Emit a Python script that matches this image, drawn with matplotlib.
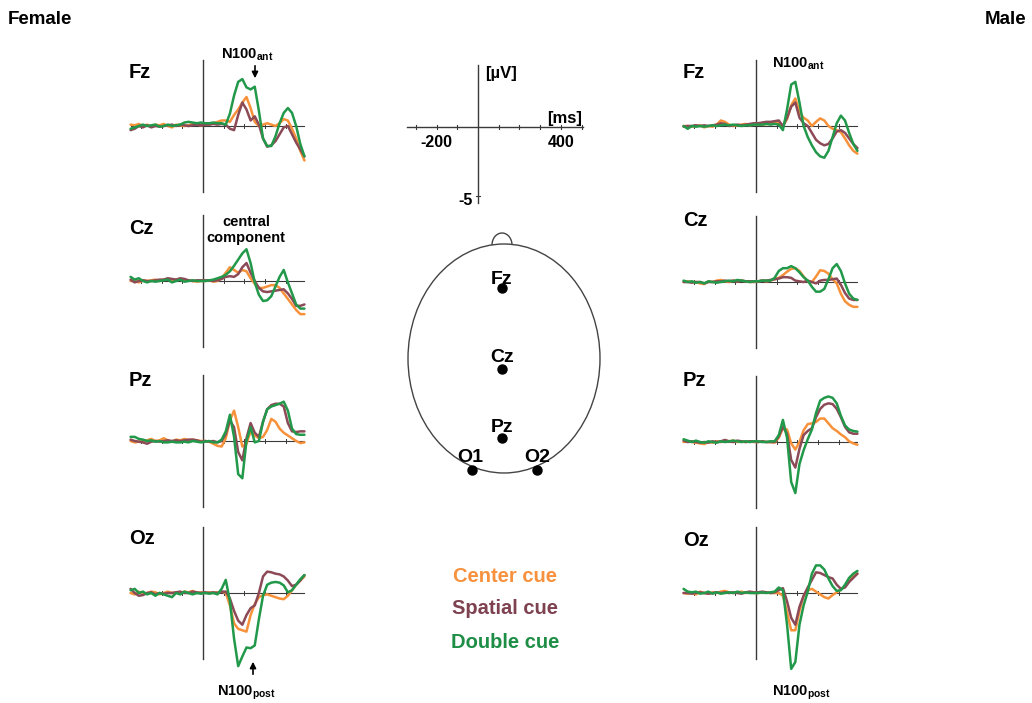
#!/usr/bin/env python3
"""
ERP waveforms (Fz, Cz, Pz, Oz) for female and male groups,
three cue conditions, with scale bar and electrode head map.
"""

import matplotlib
matplotlib.use('Agg')
import matplotlib.pyplot as plt
import matplotlib.patches as mpatches

plt.rcParams['font.family'] = ['Liberation Sans', 'DejaVu Sans']
plt.rcParams['font.weight'] = 'bold'
plt.rcParams['mathtext.fontset'] = 'custom'
plt.rcParams['mathtext.rm'] = 'Liberation Sans:bold'
plt.rcParams['mathtext.bf'] = 'Liberation Sans:bold'

# ---------------------------------------------------------------- data
# sample times (ms)
times = [-350, -330, -310, -290, -270, -250, -230, -210, -190, -170,
         -150, -130, -110, -90, -70, -50, -30, -10,
         10, 30, 50, 70, 90, 110, 130, 150, 170, 190, 210, 230, 250,
         270, 290, 310, 330, 350, 370, 390, 410, 430, 450, 470, 490]

conditions = ['Center cue', 'Spatial cue', 'Double cue']
channels = ['Fz', 'Cz', 'Pz', 'Oz']

# amplitudes (uV) - female
f_fz_center = [0.1, 0.05, 0.15, 0.0, 0.1, -0.05, 0.1, 0.05, 0.15, 0.0, -0.1, 0.1, 0.05, 0.0, 0.05, 0.15, 0.1, 0.05,
               0.1, 0.1, 0.2, 0.3, 0.4, 0.4, 0.3, 0.8, 1.2, 1.7, 2.1, 1.3, 0.3, 0.0, 0.1, 0.2, 0.1, 0.0, 0.2, 0.5, 0.4, -0.2, -0.9, -1.8, -2.5]
f_fz_spatial = [-0.3, -0.2, 0.0, -0.1, 0.05, -0.1, 0.0, -0.05, 0.0, 0.05, 0.1, 0.0, 0.1, 0.05, 0.0, 0.05, 0.1, 0.05,
                0.1, 0.1, 0.15, 0.1, 0.15, 0.1, -0.2, -0.3, 0.8, 1.7, 1.2, 0.4, 0.7, 0.1, -0.9, -1.5, -1.4, -1.1, -0.6, -0.1, 0.0, -0.6, -1.2, -1.7, -2.2]
f_fz_double = [-0.2, -0.1, 0.0, 0.1, 0.0, 0.05, 0.1, -0.05, 0.0, 0.1, 0.0, 0.05, 0.1, 0.25, 0.3, 0.25, 0.2, 0.25,
               0.2, 0.2, 0.25, 0.2, 0.2, 0.1, 0.9, 2.2, 3.2, 3.4, 2.8, 2.65, 2.85, 1.1, -0.9, -1.45, -1.45, -0.75, 0.2, 0.95, 1.3, 0.95, 0.0, -1.3, -2.2]

f_cz_center = [0.0, 0.0, -0.1, 0.05, 0.0, 0.05, 0.1, 0.0, 0.1, 0.15, 0.05, 0.1, 0.1, 0.0, 0.05, 0.0, -0.05, 0.0,
               0.0, 0.05, -0.05, 0.0, 0.2, 0.6, 1.0, 0.8, 0.6, 0.8, 0.7, 0.2, -0.2, -0.5, -0.5, -0.4, -0.3, -0.3, -0.5, -0.9, -1.3, -1.7, -2.1, -2.4, -2.4]
f_cz_spatial = [0.1, -0.1, 0.0, 0.05, 0.0, 0.0, 0.05, 0.1, 0.1, 0.2, 0.15, 0.1, 0.2, 0.15, 0.05, 0.0, 0.05, 0.05,
                0.05, 0.05, 0.0, 0.05, 0.15, 0.3, 0.35, 0.3, 0.5, 1.0, 1.3, 0.6, 0.0, -0.5, -0.75, -0.8, -0.75, -0.7, -0.65, -0.6, -0.9, -1.3, -1.8, -1.8, -1.7]
f_cz_double = [0.3, 0.1, 0.2, 0.0, -0.1, 0.0, -0.05, 0.0, 0.05, 0.1, -0.1, 0.0, 0.1, -0.05, 0.0, 0.05, 0.0, 0.0,
               0.0, 0.05, 0.1, 0.2, 0.3, 0.45, 0.7, 1.1, 1.55, 2.0, 2.3, 1.3, -0.1, -1.0, -1.45, -1.4, -1.1, -0.4, 0.3, 0.8, -0.1, -0.9, -1.7, -2.0, -2.0]

f_pz_center = [0.0, -0.1, -0.05, 0.0, 0.05, 0.15, 0.0, 0.05, 0.2, 0.05, -0.05, 0.1, 0.05, 0.15, 0.05, 0.1, 0.05, 0.0,
               0.0, -0.05, -0.2, -0.35, -0.4, 0.2, 1.5, 2.2, 1.0, -0.4, -0.2, 0.7, 0.4, 0.2, 0.3, 0.8, 1.6, 1.4, 0.9, 0.6, 0.4, 0.2, 0.0, -0.15, -0.1]
f_pz_spatial = [0.1, 0.0, -0.05, -0.1, -0.2, -0.05, 0.0, -0.05, 0.0, 0.05, 0.0, 0.05, 0.0, 0.05, 0.1, 0.1, 0.05, -0.05,
                0.0, -0.05, 0.0, -0.1, 0.0, 0.5, 1.5, 1.0, -0.8, -1.4, 0.2, 1.3, 0.6, 0.3, 1.4, 2.3, 2.6, 2.7, 2.7, 2.5, 1.3, 0.7, 0.65, 0.7, 0.7]
f_pz_double = [0.3, 0.3, 0.15, 0.1, 0.0, 0.05, -0.05, 0.0, -0.1, -0.1, -0.05, -0.1, -0.1, -0.05, -0.1, 0.0, -0.05, -0.1,
               -0.05, 0.0, -0.1, -0.1, 0.1, 0.7, 1.9, 0.3, -2.4, -2.7, 0.0, 1.0, -0.1, 0.0, 1.4, 2.3, 2.5, 2.6, 2.7, 2.85, 2.2, 0.9, 0.5, 0.45, 0.45]

f_oz_center = [0.0, -0.1, 0.1, -0.05, 0.0, 0.1, 0.05, -0.1, 0.0, 0.1, 0.0, 0.05, -0.05, 0.1, 0.05, 0.15, 0.0, 0.05,
               0.0, 0.05, 0.0, 0.05, 0.1, 0.0, -0.9, -2.2, -2.6, -2.7, -2.8, -1.6, -0.8, -0.3, -0.15, -0.1, -0.2, -0.3, -0.4, -0.45, -0.2, 0.2, 0.6, 0.9, 1.2]
f_oz_spatial = [0.3, 0.0, -0.2, -0.15, 0.0, 0.05, -0.1, 0.0, -0.05, 0.0, 0.0, 0.05, 0.1, 0.0, 0.0, 0.1, 0.05, 0.0,
                0.05, 0.0, 0.05, 0.0, 0.1, 0.1, -0.4, -1.3, -2.0, -2.3, -1.6, -1.1, -0.9, 0.0, 1.2, 1.55, 1.5, 1.4, 1.35, 1.2, 0.9, 0.5, 0.6, 0.9, 1.3]
f_oz_double = [0.2, 0.3, 0.0, 0.1, -0.1, 0.0, -0.2, 0.0, -0.1, -0.2, -0.3, 0.0, -0.1, 0.1, 0.0, -0.1, 0.0, -0.05,
               0.0, -0.05, 0.0, -0.1, 0.3, 0.95, -0.6, -3.3, -5.3, -4.6, -3.95, -4.0, -3.8, -1.9, -0.2, 0.6, 0.75, 0.8, 0.75, 0.55, 0.05, 0.2, 0.6, 1.0, 1.3]

# amplitudes (uV) - male
m_fz_center = [0.0, 0.0, -0.05, 0.0, 0.05, -0.1, 0.0, -0.05, 0.1, 0.4, 0.3, 0.1, 0.0, 0.05, 0.1, 0.15, 0.05, 0.1,
               0.1, 0.1, 0.15, 0.2, 0.25, 0.2, 0.0, 0.5, 1.5, 2.0, 1.0, 0.6, 0.4, 0.0, 0.3, 0.55, 0.4, 0.0, -0.2, -0.3, -0.45, -0.9, -1.4, -1.8, -2.0]
m_fz_spatial = [-0.05, 0.0, 0.0, 0.05, 0.0, 0.05, 0.0, 0.05, 0.1, 0.2, 0.15, 0.0, 0.05, 0.1, 0.05, 0.1, 0.15, 0.2,
                0.2, 0.25, 0.3, 0.3, 0.35, 0.4, 0.0, 0.6, 1.4, 1.7, 0.6, 0.2, 0.0, -0.5, -1.0, -1.25, -1.4, -1.3, -0.9, -0.4, -0.3, -0.5, -0.9, -1.3, -1.6]
m_fz_double = [0.0, -0.2, 0.0, -0.05, 0.0, -0.05, 0.0, 0.05, 0.0, 0.05, 0.1, 0.05, 0.1, 0.05, 0.0, 0.05, 0.05, 0.1,
               0.1, 0.1, 0.15, 0.1, 0.15, 0.1, -0.3, 1.2, 3.0, 3.2, 1.7, 0.0, -0.8, -1.4, -1.9, -2.2, -2.3, -1.8, -0.8, 0.2, 0.75, 0.4, -0.5, -1.3, -1.8]

m_cz_center = [0.0, 0.05, 0.0, 0.0, -0.1, -0.15, 0.05, 0.0, 0.1, 0.15, 0.05, 0.0, 0.1, 0.05, 0.1, 0.05, 0.0, 0.0,
               0.05, 0.1, 0.05, 0.1, 0.2, 0.3, 0.5, 0.75, 0.95, 1.0, 0.8, 0.4, 0.05, 0.0, 0.4, 0.85, 0.8, 0.6, 0.2, -0.1, -0.85, -1.4, -1.65, -1.8, -1.8]
m_cz_spatial = [0.0, 0.0, -0.05, 0.0, 0.0, -0.1, 0.0, 0.0, 0.05, 0.05, 0.1, 0.05, 0.1, 0.05, 0.1, 0.05, 0.05, 0.05,
                0.05, 0.1, 0.1, 0.15, 0.2, 0.25, 0.35, 0.35, 0.3, 0.1, 0.05, 0.0, 0.1, 0.0, -0.1, 0.1, 0.15, 0.15, 0.2, 0.25, -0.2, -0.8, -1.2, -1.3, -1.3]
m_cz_double = [0.1, 0.0, 0.05, -0.05, 0.0, -0.1, 0.05, 0.0, -0.05, 0.0, 0.05, 0.1, 0.05, 0.15, 0.1, 0.05, 0.0, 0.05,
               0.05, 0.1, 0.1, 0.1, 0.3, 0.8, 1.0, 1.0, 1.15, 1.0, 0.7, 0.35, 0.1, -0.35, -0.7, -0.7, -0.5, 0.2, 1.0, 1.3, 0.8, -0.1, -0.85, -1.2, -1.3]

m_pz_center = [0.0, 0.05, 0.0, -0.05, -0.1, -0.15, 0.0, -0.05, 0.05, 0.0, 0.1, 0.05, 0.1, 0.0, 0.05, 0.0, 0.05, 0.0,
               0.0, 0.05, 0.0, 0.0, -0.05, 0.3, 1.0, 0.9, -0.1, -0.55, 0.0, 0.85, 1.3, 1.35, 1.45, 1.7, 1.7, 1.35, 1.0, 0.8, 0.55, 0.35, 0.05, -0.1, -0.2]
m_pz_spatial = [0.1, 0.0, 0.05, 0.0, -0.05, 0.0, -0.05, 0.05, 0.0, 0.05, 0.15, 0.05, 0.0, 0.1, 0.05, 0.0, 0.05, 0.05,
                0.0, 0.05, 0.0, 0.0, 0.0, 0.4, 1.1, 0.6, -1.3, -1.85, -0.5, 0.5, 0.8, 1.0, 1.8, 2.4, 2.7, 2.8, 2.75, 2.4, 1.8, 1.1, 0.7, 0.6, 0.6]
m_pz_double = [0.2, 0.1, 0.0, 0.1, 0.0, -0.05, 0.05, 0.0, -0.05, 0.05, 0.0, 0.05, 0.1, 0.05, 0.0, 0.05, 0.0, 0.05,
               0.05, 0.0, 0.0, 0.05, 0.05, 0.5, 1.6, 0.3, -2.9, -3.7, -1.6, -0.6, 0.2, 0.9, 2.1, 3.0, 3.2, 3.3, 3.2, 2.8, 1.9, 1.2, 0.9, 0.8, 0.75]

m_oz_center = [0.0, -0.05, 0.0, -0.1, 0.1, 0.0, -0.05, 0.05, 0.0, 0.1, 0.15, 0.05, 0.0, 0.05, 0.1, 0.0, 0.05, 0.0,
               0.0, 0.05, 0.05, 0.0, 0.0, 0.0, -0.2, -1.4, -2.7, -2.7, -1.3, -0.2, 0.2, 0.3, 0.1, -0.1, -0.3, -0.4, -0.15, 0.05, 0.25, 0.5, 0.95, 1.2, 1.4]
m_oz_spatial = [0.0, 0.0, -0.05, 0.0, 0.05, 0.0, -0.05, 0.0, 0.05, 0.0, 0.05, 0.0, 0.05, 0.0, -0.05, 0.05, 0.1, 0.05,
                0.05, 0.1, 0.05, 0.0, 0.05, 0.2, 0.35, -0.6, -1.8, -2.3, -1.0, -0.2, 0.4, 0.95, 1.5, 1.45, 1.3, 1.15, 1.05, 0.6, 0.3, 0.4, 0.8, 1.1, 1.4]
m_oz_double = [0.3, 0.1, 0.05, 0.1, -0.05, 0.0, 0.1, -0.05, 0.05, -0.05, 0.0, 0.05, 0.0, 0.1, 0.0, 0.05, 0.0, 0.0,
               0.0, 0.05, 0.0, 0.05, 0.1, 0.4, 0.2, -2.3, -5.5, -5.0, -2.3, -0.9, 0.1, 1.4, 2.0, 2.0, 1.7, 1.05, 0.5, 0.15, 0.2, 0.6, 1.1, 1.4, 1.6]

female = {
    'Fz': [f_fz_center, f_fz_spatial, f_fz_double],
    'Cz': [f_cz_center, f_cz_spatial, f_cz_double],
    'Pz': [f_pz_center, f_pz_spatial, f_pz_double],
    'Oz': [f_oz_center, f_oz_spatial, f_oz_double],
}
male = {
    'Fz': [m_fz_center, m_fz_spatial, m_fz_double],
    'Cz': [m_cz_center, m_cz_spatial, m_cz_double],
    'Pz': [m_pz_center, m_pz_spatial, m_pz_double],
    'Oz': [m_oz_center, m_oz_spatial, m_oz_double],
}

# ---------------------------------------------------------------- layout
W, H = 1032, 703
PX_PER_MS = 0.207
PX_PER_UV = 13.8
XLIM = (-400, 540)
YLIM = (-7.0, 5.5)

cond_colors = ['#F7923A', '#8C4A57', '#22994A']
text_colors = ['#F7913D', '#7E4150', '#1E8E46']
draw_order = [1, 0, 2]   # spatial, center, double on top

# pixel position of (0 ms, 0 uV) for every panel
female_origin = {'Fz': (203, 126), 'Cz': (203, 281), 'Pz': (203, 441), 'Oz': (203, 593)}
male_origin = {'Fz': (756, 126), 'Cz': (756, 282), 'Pz': (756, 442), 'Oz': (756, 593)}
female_label_y = {'Fz': 72, 'Cz': 228, 'Pz': 381, 'Oz': 538}
male_label_y = {'Fz': 73, 'Cz': 221, 'Pz': 381, 'Oz': 540}

AXIS_COLOR = '#3a3a3a'


def panel_axes(fig, x0, base):
    left = x0 + XLIM[0] * PX_PER_MS
    width = (XLIM[1] - XLIM[0]) * PX_PER_MS
    top = base - YLIM[1] * PX_PER_UV
    height = (YLIM[1] - YLIM[0]) * PX_PER_UV
    ax = fig.add_axes([left / W, 1 - (top + height) / H, width / W, height / H])
    ax.set_xlim(*XLIM)
    ax.set_ylim(*YLIM)
    ax.set_axis_off()
    return ax


def draw_panel(fig, x0, base, series):
    ax = panel_axes(fig, x0, base)
    ax.plot([times[0], times[-1]], [0, 0], color=AXIS_COLOR, lw=0.8, zorder=1)
    ax.plot([0, 0], [4.8, -4.8], color=AXIS_COLOR, lw=1.0, zorder=1)
    for tk in [-300, -200, -100, 100, 200, 300, 400]:
        ax.plot([tk, tk], [-0.12, 0.12], color=AXIS_COLOR, lw=0.7, zorder=1)
    for i in draw_order:
        ax.plot(times, series[i], color=cond_colors[i], lw=1.8,
                solid_joinstyle='round', solid_capstyle='round', zorder=2 + i)
    return ax


def draw_scale(fig):
    ax = panel_axes(fig, 478, 127)
    ax.plot([-343, 507], [0, 0], color=AXIS_COLOR, lw=1.0)
    ax.plot([0, 0], [4.5, -5.5], color=AXIS_COLOR, lw=1.0)
    for tk in [-300, -200, -100, 100, 200, 300, 400, 500]:
        ax.plot([tk, tk], [-0.12, 0.12], color=AXIS_COLOR, lw=0.8)
    ax.plot([-10, 10], [-5, -5], color=AXIS_COLOR, lw=0.8)
    ax.text(-200, -1.15, '-200', ha='center', va='center', fontsize=11.5)
    ax.text(400, -1.15, '400', ha='center', va='center', fontsize=11.5)
    ax.text(420, 0.6, '[ms]', ha='center', va='center', fontsize=12)
    ax.text(111, 3.85, '[µV]', ha='center', va='center', fontsize=12)
    ax.text(-58, -5.35, '-5', ha='center', va='center', fontsize=11.5)


def main():
    fig = plt.figure(figsize=(W / 100, H / 100), dpi=100)
    fig.patch.set_facecolor('white')

    # overlay in pixel coordinates for labels and head map
    ov = fig.add_axes([0, 0, 1, 1])
    ov.set_xlim(0, W)
    ov.set_ylim(H, 0)
    ov.set_axis_off()

    ov.text(8, 19, 'Female', ha='left', va='center', fontsize=13.5)
    ov.text(985, 19, 'Male', ha='left', va='center', fontsize=13.5)

    for ch in channels:
        x0, base = female_origin[ch]
        draw_panel(fig, x0, base, female[ch])
        ov.text(129, female_label_y[ch], ch, ha='left', va='center', fontsize=14.5)
        x0, base = male_origin[ch]
        draw_panel(fig, x0, base, male[ch])
        ov.text(683, male_label_y[ch], ch, ha='left', va='center', fontsize=14.5)

    # component annotations
    ov.text(221, 58, r'N100$_{\mathrm{ant}}$', ha='left', va='baseline', fontsize=10.5)
    ov.annotate('', xy=(255, 81), xytext=(255, 63),
                arrowprops=dict(arrowstyle='-|>', color='black', lw=1.2, mutation_scale=9))
    ov.text(772, 67, r'N100$_{\mathrm{ant}}$', ha='left', va='baseline', fontsize=10.5)
    ov.text(246, 230, 'central\ncomponent', ha='center', va='center',
            fontsize=10.5, linespacing=1.25)
    ov.text(217, 695, r'N100$_{\mathrm{post}}$', ha='left', va='baseline', fontsize=10.5)
    ov.annotate('', xy=(253, 659), xytext=(253, 677),
                arrowprops=dict(arrowstyle='-|>', color='black', lw=1.2, mutation_scale=9))
    ov.text(772, 695, r'N100$_{\mathrm{post}}$', ha='left', va='baseline', fontsize=10.5)

    draw_scale(fig)

    # head map
    ov.add_patch(mpatches.Ellipse((504, 358.5), 192, 229, fill=False,
                                  edgecolor='#444444', lw=1.0))
    ov.add_patch(mpatches.Arc((502, 245), 20, 24, theta1=180, theta2=360,
                              edgecolor='#444444', lw=1.0))
    electrodes = ['Fz', 'Cz', 'Pz', 'O1', 'O2']
    elec_x = [502, 502, 502, 472, 537]
    elec_y = [288, 369, 438, 470, 470]
    label_xy = [(502, 279), (502, 357), (502, 427), (470, 457), (537, 457)]
    ov.plot(elec_x, elec_y, 'o', color='black', ms=6.5)
    for name, (lx, ly) in zip(electrodes, label_xy):
        ov.text(lx, ly, name, ha='center', va='center', fontsize=14)

    # condition legend
    for name, col, y in zip(conditions, text_colors, [576, 608, 642]):
        ov.text(505, y, name, ha='center', va='center', fontsize=14.5, color=col)

    fig.savefig('out.png', dpi=100, facecolor='white')
    plt.close(fig)


if __name__ == '__main__':
    main()
